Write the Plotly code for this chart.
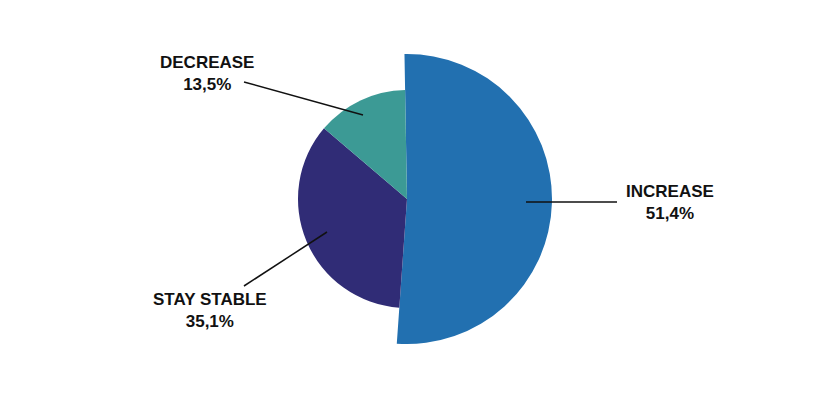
import plotly.graph_objects as go

W, H = 833, 411

# data
categories = ["INCREASE", "STAY STABLE", "DECREASE"]
shares = [51.4, 35.1, 13.5]
colors = ["#2270B0", "#302C76", "#3C9A95"]

# pixel -> paper helpers
def px(x):
    return x / W


def py(y):
    return 1 - y / H


cx, cy = 407, 199
R_big, R_small = 145, 109


def domain(r):
    return dict(x=[px(cx - r), px(cx + r)], y=[py(cy + r), py(cy - r)])


clear = "rgba(0,0,0,0)"

fig = go.Figure()
# outer pie: only INCREASE visible
fig.add_trace(go.Pie(
    labels=categories, values=shares, sort=False, direction="clockwise", rotation=-1,
    marker=dict(colors=[colors[0], clear, clear], line=dict(width=0)),
    textinfo="none", hoverinfo="skip", showlegend=False, domain=domain(R_big),
))
# inner pie: the other two
fig.add_trace(go.Pie(
    labels=categories, values=shares, sort=False, direction="clockwise", rotation=-1,
    marker=dict(colors=[clear, colors[1], colors[2]], line=dict(width=0)),
    textinfo="none", hoverinfo="skip", showlegend=False, domain=domain(R_small),
))

# label placement (px) and leader lines
label_pos = {"INCREASE": (670, 203), "STAY STABLE": (210, 310), "DECREASE": (207, 73)}
leaders = {
    "INCREASE": ((526, 202), (617, 202)),
    "STAY STABLE": ((244, 286), (327, 232)),
    "DECREASE": ((244, 82), (363, 115)),
}

for cat, val in zip(categories, shares):
    x, y = label_pos[cat]
    pct = f"{val:.1f}".replace(".", ",") + "%"
    fig.add_annotation(
        xref="paper", yref="paper", x=px(x), y=py(y),
        xanchor="center", yanchor="middle", align="center", showarrow=False,
        text=f"<b>{cat}</b><br><b>{pct}</b>",
        font=dict(family="Liberation Sans", size=17, color="#111111"),
    )
    (x0, y0), (x1, y1) = leaders[cat]
    fig.add_shape(type="line", xref="paper", yref="paper",
                  x0=px(x0), y0=py(y0), x1=px(x1), y1=py(y1),
                  line=dict(color="#111111", width=1.5))

fig.update_layout(
    width=W, height=H,
    margin=dict(t=0, l=0, r=0, b=0),
    paper_bgcolor="white", plot_bgcolor="white",
)

fig.write_html("out.html", config={"displayModeBar": False},
               post_script="document.body.style.margin='0';")
